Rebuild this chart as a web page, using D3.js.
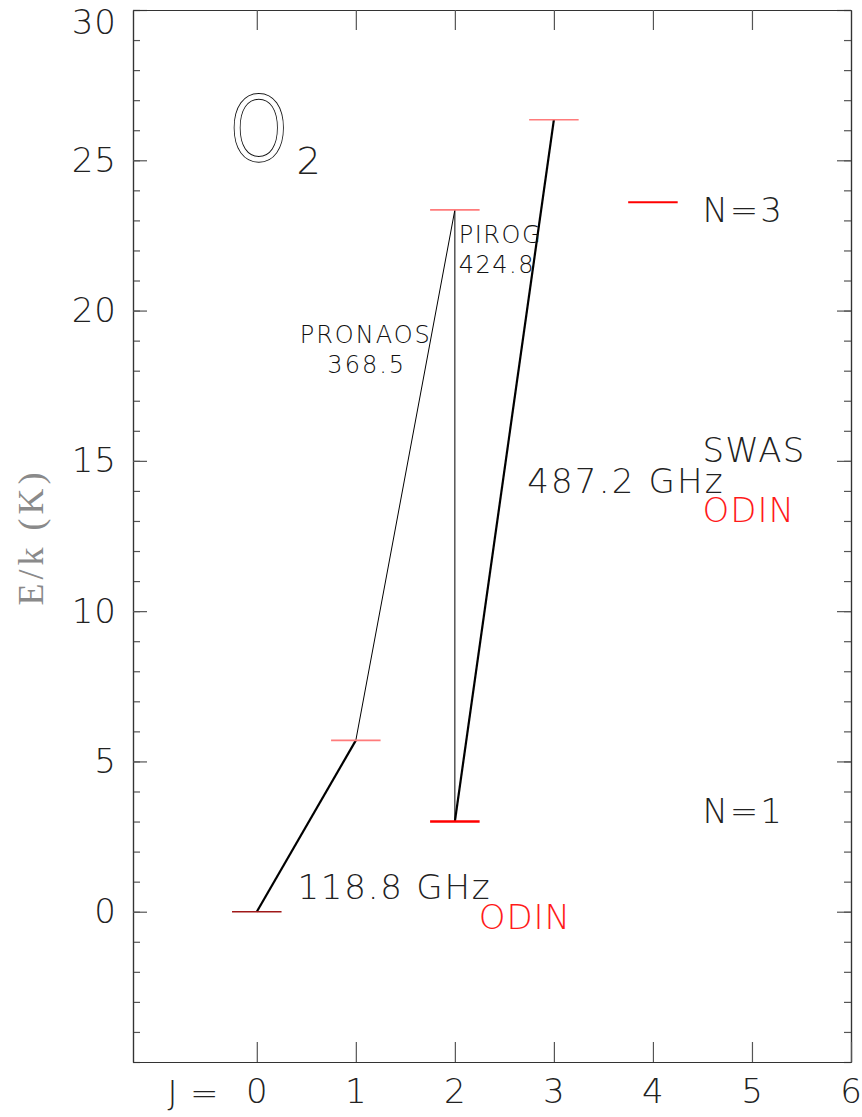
<!DOCTYPE html>
<html>
<head>
<meta charset="utf-8">
<script src="https://cdn.jsdelivr.net/npm/d3@7"></script>
<style>
    body { margin: 0; background: #fff; }
    svg { display: block; }
    text { font-family: "DejaVu Sans", sans-serif; font-weight: 200; }
</style>
</head>
<body>
<svg id="canvas" width="862" height="1117"></svg>
<script>
"use strict";

// O2 rotational levels: N, J and energy E/k (K)
var levelN = [1, 1, 1, 3, 3, 3];
var levelJ = [0, 1, 2, 2, 3, 4];
var levelE = [0, 5.7, 3.0, 23.35, 26.35, 23.6];

// Transitions (indices into the level arrays)
var transFrom = [0, 1, 2, 2];
var transTo = [1, 3, 3, 4];
var transName = ["118.8 GHz", "PRONAOS 368.5", "PIROG 424.8", "487.2 GHz"];

// Axis ticks
var xTicks = [0, 1, 2, 3, 4, 5, 6];
var yMajorTicks = [0, 5, 10, 15, 20, 25, 30];
var yMinorTicks = d3.range(-5, 31, 1);

var PLOT_LEFT = 133, PLOT_RIGHT = 851, PLOT_TOP = 10, PLOT_BOTTOM = 1062;
var LEVEL_HALF = 0.25;

var svg = d3.select(document.getElementById("canvas"));

var x = d3.scaleLinear().domain([-1.25, 6]).range([PLOT_LEFT, PLOT_RIGHT]);
var y = d3.scaleLinear().domain([-5, 30]).range([PLOT_BOTTOM, PLOT_TOP]);

// Axes
function styleAxis(g) {
    g.select(".domain").attr("stroke", "#333").attr("stroke-width", 1.2);
    g.selectAll(".tick line").attr("stroke", "#555").attr("stroke-width", 1.2);
    g.selectAll(".tick text")
        .attr("fill", "#222")
        .attr("font-size", 34)
        .style("font-family", "DejaVu Sans, sans-serif")
        .style("font-weight", 200)
        .attr("letter-spacing", 1);
}

svg.append("g")
    .attr("transform", "translate(" + PLOT_LEFT + ",0)")
    .call(d3.axisLeft(y).tickValues(yMinorTicks).tickSizeInner(-7).tickSizeOuter(0).tickFormat(""))
    .call(styleAxis);
var yAxisLeft = svg.append("g")
    .attr("transform", "translate(" + PLOT_LEFT + ",0)")
    .call(d3.axisLeft(y).tickValues(yMajorTicks).tickSizeInner(-14).tickSizeOuter(0).tickPadding(16))
    .call(styleAxis);
// top label is pushed down inside the page, as in the original plot
yAxisLeft.selectAll(".tick text")
    .filter(function(d) { return d === 30; })
    .attr("y", 13);

svg.append("g")
    .attr("transform", "translate(" + PLOT_RIGHT + ",0)")
    .call(d3.axisRight(y).tickValues(yMinorTicks).tickSizeInner(-7).tickSizeOuter(0).tickFormat(""))
    .call(styleAxis);
svg.append("g")
    .attr("transform", "translate(" + PLOT_RIGHT + ",0)")
    .call(d3.axisRight(y).tickValues(yMajorTicks).tickSizeInner(-14).tickSizeOuter(0).tickFormat(""))
    .call(styleAxis);

svg.append("g")
    .attr("transform", "translate(0," + PLOT_BOTTOM + ")")
    .call(d3.axisBottom(x).tickValues(xTicks).tickSizeInner(-20).tickSizeOuter(0).tickPadding(17))
    .call(styleAxis);
svg.append("g")
    .attr("transform", "translate(0," + PLOT_TOP + ")")
    .call(d3.axisTop(x).tickValues(xTicks.slice(0, 6)).tickSizeInner(-20).tickSizeOuter(0).tickFormat(""))
    .call(styleAxis);

// "J =" in front of the first x label
svg.append("g")
    .selectAll("text")
    .data([["J", -0.85], ["=", -0.53]])
    .enter().append("text")
    .attr("x", function(d) { return x(d[1]); })
    .attr("y", 1105)
    .attr("text-anchor", "middle")
    .attr("font-size", 34)
    .attr("fill", "#222")
    .text(function(d) { return d[0]; });

// Y axis title
svg.append("text")
    .attr("transform", "translate(43,537) rotate(-90)")
    .attr("text-anchor", "middle")
    .style("font-family", "'Liberation Serif', serif")
    .style("font-weight", 400)
    .attr("font-size", 36)
    .attr("letter-spacing", 4)
    .attr("fill", "#8a8a8a")
    .text("E/k (K)");

// Transitions
var TRANS_WIDTH = [2.2, 1, 1, 2.2];
var lines = svg.append("g")
    .selectAll("line")
    .data(d3.range(transFrom.length));
lines.enter().append("line")
    .attr("x1", function(i) { return x(levelJ[transFrom[i]]); })
    .attr("y1", function(i) { return y(levelE[transFrom[i]]); })
    .attr("x2", function(i) { return x(levelJ[transTo[i]]); })
    .attr("y2", function(i) { return y(levelE[transTo[i]]); })
    .attr("stroke", "#000")
    .attr("stroke-width", function(i) { return TRANS_WIDTH[i]; });

// Levels
var LEVEL_COLOR = ["#a01818", "#ff7b7b", "#ff0000", "#ff7b7b", "#ff7b7b", "#ff0000"];
var LEVEL_WIDTH = [1.5, 1.6, 2.6, 1.6, 1.6, 2];
svg.append("g")
    .selectAll("line")
    .data(d3.range(levelJ.length))
    .enter().append("line")
    .attr("x1", function(i) { return x(levelJ[i] - LEVEL_HALF); })
    .attr("x2", function(i) { return x(levelJ[i] + LEVEL_HALF); })
    .attr("y1", function(i) { return y(levelE[i]); })
    .attr("y2", function(i) { return y(levelE[i]); })
    .attr("stroke", function(i) { return LEVEL_COLOR[i]; })
    .attr("stroke-width", function(i) { return LEVEL_WIDTH[i]; });

// Labels (positions in data units)
var labels = [
    { t: transName[0], j: 0.41, e: 0.43, size: 34, fill: "#222", anchor: "start", ls: 1.8 },
    { t: "ODIN", j: 2.24, e: -0.57, size: 34, fill: "#ff1a1a", anchor: "start", ls: 1 },
    { t: transName[3], j: 2.73, e: 13.93, size: 34, fill: "#222", anchor: "start", ls: 2.2 },
    { t: "PRONAOS", j: 1.1, e: 18.93, size: 24, fill: "#111", anchor: "middle", ls: 2 },
    { t: "368.5", j: 1.11, e: 17.93, size: 24, fill: "#111", anchor: "middle", ls: 2 },
    { t: "PIROG", j: 2.04, e: 22.25, size: 24, fill: "#111", anchor: "start", ls: 1.5 },
    { t: "424.8", j: 2.04, e: 21.25, size: 24, fill: "#111", anchor: "start", ls: 1.5 },
    { t: "N=3", j: 4.5, e: 22.95, size: 34, fill: "#222", anchor: "start", ls: 2 },
    { t: "SWAS", j: 4.5, e: 14.97, size: 34, fill: "#222", anchor: "start", ls: 1.2 },
    { t: "ODIN", j: 4.5, e: 12.97, size: 34, fill: "#ff1a1a", anchor: "start", ls: 1 },
    { t: "N=1", j: 4.5, e: 2.96, size: 34, fill: "#222", anchor: "start", ls: 2 }
];
svg.append("g")
    .selectAll("text")
    .data(labels)
    .enter().append("text")
    .attr("x", function(d) { return x(d.j); })
    .attr("y", function(d) { return y(d.e); })
    .attr("text-anchor", function(d) { return d.anchor; })
    .attr("font-size", function(d) { return d.size; })
    .attr("letter-spacing", function(d) { return d.ls; })
    .attr("fill", function(d) { return d.fill; })
    .text(function(d) { return d.t; });

// O2 title: outlined O with subscript 2
var title = svg.append("g");
var oTransform = "translate(" + x(0.02) + "," + y(25) + ") scale(0.86,1)";
title.append("text")
    .attr("transform", oTransform)
    .attr("text-anchor", "middle")
    .attr("font-size", 88)
    .attr("fill", "none")
    .attr("stroke", "#111")
    .attr("stroke-width", 3.4)
    .text("O");
title.append("text")
    .attr("transform", oTransform)
    .attr("text-anchor", "middle")
    .attr("font-size", 88)
    .attr("fill", "#fff")
    .attr("stroke", "#fff")
    .attr("stroke-width", 1.4)
    .text("O");
title.append("text")
    .attr("x", x(0.4))
    .attr("y", y(24.55))
    .attr("font-size", 38)
    .attr("fill", "#222")
    .text("2");
</script>
</body>
</html>
